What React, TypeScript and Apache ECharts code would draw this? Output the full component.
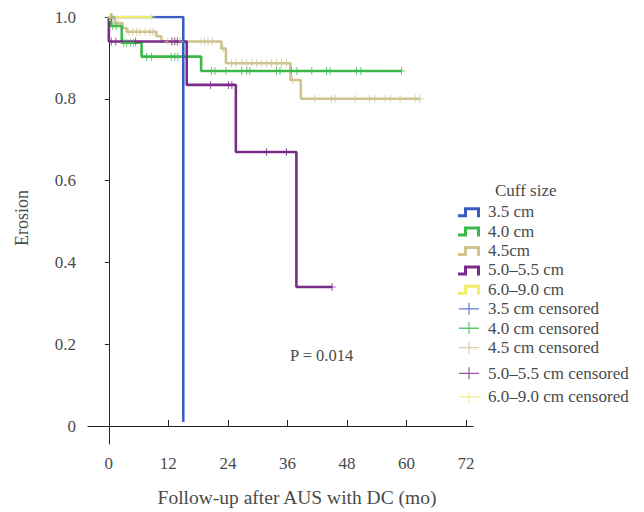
import React, { useEffect, useRef } from "react";
import * as echarts from "echarts";

// Axis ticks
const xTicks = [0, 12, 24, 36, 48, 60, 72];
const yTicks = [0, 0.2, 0.4, 0.6, 0.8, 1.0];

// Group names
const lineNames = ["3.5 cm", "4.0 cm", "4.5cm", "5.0–5.5 cm", "6.0–9.0 cm"];
const censorNames = [
  "3.5 cm censored",
  "4.0 cm censored",
  "4.5 cm censored",
  "5.0–5.5 cm censored",
  "6.0–9.0 cm censored",
];
const colors = ["#3b5cc4", "#3cb84b", "#cfc48f", "#7b2c89", "#eeee6c"];

// Kaplan–Meier step curves (time in months, survival)
const t35 = [0, 15];
const s35 = [1.0, 0.01];
const t40 = [0, 0.4, 2.6, 6.6, 18.6, 59];
const s40 = [1.0, 0.978, 0.937, 0.903, 0.868, 0.868];
const t45 = [0, 1.2, 2.8, 3.6, 9.6, 10.6, 22.7, 23.6, 36.6, 38.7, 62.7];
const s45 = [1.0, 0.985, 0.973, 0.964, 0.953, 0.94, 0.923, 0.887, 0.846, 0.8, 0.8];
const t50 = [0, 0, 15.7, 25.6, 37.8, 45];
const s50 = [1.0, 0.94, 0.834, 0.67, 0.34, 0.34];
const t60 = [0, 8.6];
const s60 = [1.0, 1.0];

// Censoring times
const c35 = [0.6];
const c40 = [0.8, 1.5, 3.0, 3.6, 4.4, 5.0, 7.6, 8.6, 12.6, 13.3, 13.9, 20.7, 21.4, 23.6, 26.8, 27.8, 28.4, 33.8, 34.5, 36.8, 37.9, 40.9, 43.9, 44.6, 49.9, 50.8, 59];
const c45 = [0.3, 1.8, 3.9, 4.8, 5.6, 6.3, 7.3, 8.3, 8.9, 11.9, 12.9, 14.3, 18.6, 19.3, 20.0, 20.8, 23.0, 24.7, 25.7, 26.8, 27.8, 28.8, 29.8, 30.8, 31.8, 32.8, 33.8, 34.8, 35.8, 37.0, 41.5, 44.9, 45.6, 49.6, 52.6, 53.6, 55.7, 56.7, 58.7, 61.7, 62.7];
const c50 = [0.5, 1.4, 5.4, 12.7, 13.3, 13.8, 20.5, 24.1, 24.8, 31.8, 35.8, 45];
const c60 = [0.2, 8.6];

const curves = [
  { t: t35, s: s35, c: c35 },
  { t: t40, s: s40, c: c40 },
  { t: t45, s: s45, c: c45 },
  { t: t50, s: s50, c: c50 },
  { t: t60, s: s60, c: c60 },
];
const zOrder = [5, 3, 2, 4, 6];

const FONT = "'Liberation Serif', 'DejaVu Serif', serif";
const TEXT = "#4a4a4a";

const corner = "M0,0L0.01,0L0.01,0.01Z M26,13L25.99,13L25.99,12.99Z";
const stepIcon = "path://M1,9L7,9L7,2L23,2L23,12L20,12L20,5L10,5L10,12L1,12Z " + corner;
const plusIcon = "path://M2,6L22,6L22,7.3L2,7.3Z M11.4,0.5L12.6,0.5L12.6,12.5L11.4,12.5Z " + corner;
const plusSymbol = "path://M0,4.4L10,4.4L10,5.6L0,5.6Z M4.3,0L5.7,0L5.7,10L4.3,10Z";

function survAt(t: number[], s: number[], x: number): number {
  let v = s[0];
  for (let i = 0; i < t.length; i++) {
    if (t[i] <= x) v = s[i];
  }
  return v;
}

export default function App() {
  const ref = useRef<HTMLDivElement>(null);
  useEffect(() => {
    if (!ref.current) return;
    const chart = echarts.init(ref.current, undefined, { renderer: "svg" });
    const series: any[] = [];
    curves.forEach((cv, i) => {
      series.push({
        name: lineNames[i],
        type: "line",
        step: "end",
        showSymbol: false,
        symbol: "none",
        z: zOrder[i],
        data: cv.t.map((x, j) => [x, cv.s[j]]),
        lineStyle: { color: colors[i], width: 2.6 },
        itemStyle: { color: colors[i] },
      });
    });
    curves.forEach((cv, i) => {
      series.push({
        name: censorNames[i],
        type: "scatter",
        symbol: plusSymbol,
        symbolSize: [7, 8],
        z: 10 + zOrder[i],
        data: cv.c.map((x) => [x, survAt(cv.t, cv.s, x)]),
        itemStyle: { color: colors[i] },
      });
    });

    const legendBase = {
      orient: "vertical",
      left: 457,
      padding: 0,
      itemWidth: 26,
      itemHeight: 13,
      itemGap: 2.4,
      selectedMode: false,
      textStyle: { fontFamily: FONT, fontSize: 17, color: TEXT },
    };
    const legItem = (name: string) => ({
      name,
      icon: name.indexOf("censored") >= 0 ? plusIcon : stepIcon,
    });

    chart.setOption({
      animation: false,
      backgroundColor: "#ffffff",
      grid: { left: 88, right: 171, top: 17, bottom: 68 },
      xAxis: {
        type: "value",
        min: -4.2,
        max: 73.4,
        axisLine: { show: true, lineStyle: { color: "#222", width: 1 } },
        axisTick: { show: true, inside: true, length: 6, customValues: xTicks, lineStyle: { color: "#222" } },
        axisLabel: {
          customValues: xTicks,
          margin: 11,
          fontFamily: FONT,
          fontSize: 17,
          color: TEXT,
        },
        splitLine: { show: false },
      },
      yAxis: {
        type: "value",
        min: -0.044,
        max: 1.0,
        axisLine: { show: true, lineStyle: { color: "#222", width: 1 } },
        axisTick: { show: true, inside: false, length: 4, customValues: yTicks, lineStyle: { color: "#222" } },
        axisLabel: {
          customValues: yTicks,
          margin: 12,
          fontFamily: FONT,
          fontSize: 17,
          color: TEXT,
          formatter: (v: number) => (v === 0 ? "0" : v.toFixed(1)),
        },
        splitLine: { show: false },
      },
      legend: [
        {
          ...legendBase,
          top: 203.2,
          data: [...lineNames, ...censorNames.slice(0, 3)].map(legItem),
        },
        { ...legendBase, top: 364.8, data: [censorNames[3]].map(legItem) },
        { ...legendBase, top: 388.2, data: [censorNames[4]].map(legItem) },
      ],
      graphic: [
        {
          type: "text",
          x: 495,
          y: 190,
          style: { text: "Cuff size", font: `17px ${FONT}`, fill: TEXT, textVerticalAlign: "middle" },
        },
        {
          type: "text",
          x: 290,
          y: 355,
          style: { text: "P = 0.014", font: `16.5px ${FONT}`, fill: TEXT, textVerticalAlign: "middle" },
        },
        {
          type: "text",
          x: 297,
          y: 497,
          style: {
            text: "Follow-up after AUS with DC (mo)",
            font: `19.5px ${FONT}`,
            fill: TEXT,
            textAlign: "center",
            textVerticalAlign: "middle",
          },
        },
        {
          type: "text",
          x: 22,
          y: 218,
          rotation: Math.PI / 2,
          style: {
            text: "Erosion",
            font: `18px ${FONT}`,
            fill: TEXT,
            textAlign: "center",
            textVerticalAlign: "middle",
          },
        },
      ],
      series,
    });
    return () => chart.dispose();
  }, []);
  return <div ref={ref} style={{ width: 644, height: 512, position: "absolute", left: 0, top: 0 }} />;
}
